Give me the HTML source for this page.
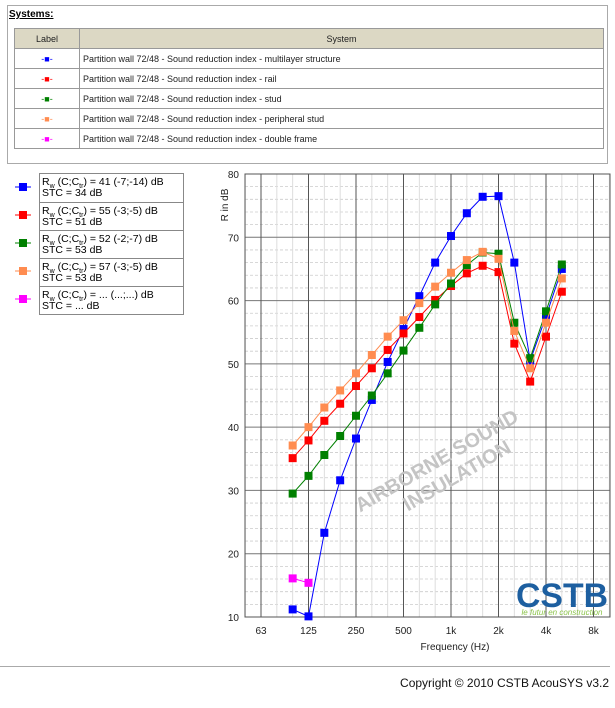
<!DOCTYPE html>
<html><head><meta charset="utf-8"><style>
body{margin:0;width:615px;height:708px;background:#fff;font-family:"Liberation Sans",sans-serif;position:relative;overflow:hidden}
.abs{position:absolute}
table{border-collapse:collapse;font-size:9px;color:#222}
td{border:1px solid #999;height:19px;padding:0 3px}
</style></head><body>
<div class="abs" style="left:7px;top:5px;width:599px;height:157px;border:1px solid #aaa"></div>
<div class="abs" style="left:9px;top:9px;font-size:10px;font-weight:bold;text-decoration:underline">Systems:</div>
<table class="abs" style="left:14px;top:28px;width:590px">
<tr style="background:#dcd8c4"><td style="width:58px;text-align:center">Label</td><td style="text-align:center">System</td></tr>
<tr><td style="text-align:center"><span style="color:#0000ff">-■-</span></td><td>Partition wall 72/48 - Sound reduction index - multilayer structure</td></tr>
<tr><td style="text-align:center"><span style="color:#ff0000">-■-</span></td><td>Partition wall 72/48 - Sound reduction index - rail</td></tr>
<tr><td style="text-align:center"><span style="color:#008000">-■-</span></td><td>Partition wall 72/48 - Sound reduction index - stud</td></tr>
<tr><td style="text-align:center"><span style="color:#ff8c50">-■-</span></td><td>Partition wall 72/48 - Sound reduction index - peripheral stud</td></tr>
<tr><td style="text-align:center"><span style="color:#ff00ff">-■-</span></td><td>Partition wall 72/48 - Sound reduction index - double frame</td></tr>
</table>
<div id="leg" class="abs" style="left:39px;top:173px;width:143px;border:1px solid #888"></div>
<svg id="ch" class="abs" style="left:0;top:0" width="615" height="708"></svg>
<div class="abs" style="left:0;top:666px;width:610px;border-top:1px solid #aaa"></div>
<div class="abs" style="right:6px;top:676px;font-size:12px;color:#111">Copyright © 2010 CSTB AcouSYS v3.2</div>
<script>
const categories=["100","125","160","200","250","315","400","500","630","800","1000","1250","1600","2000","2500","3150","4000","5000"];
const blue=[11.2,10.1,23.3,31.6,38.2,44.3,50.3,55.5,60.7,66,70.2,73.8,76.4,76.5,66,50.5,57.5,65];
const red=[35.1,37.9,41,43.7,46.5,49.3,52.2,54.8,57.4,60.1,62.3,64.3,65.5,64.5,53.2,47.2,54.3,61.4];
const green=[29.5,32.3,35.6,38.6,41.8,45,48.5,52.1,55.7,59.4,62.7,65.6,67.6,67.4,56.5,50.9,58.3,65.7];
const orange=[37.1,40,43.1,45.8,48.5,51.4,54.3,56.9,59.6,62.2,64.4,66.4,67.7,66.6,55.2,49.3,56.5,63.5];
const magenta=[16.1,15.4];
const xTicks=["63","125","250","500","1k","2k","4k","8k"];
const yTicks=[10,20,30,40,50,60,70,80];
const legendRw=["41 (-7;-14)","55 (-3;-5)","52 (-2;-7)","57 (-3;-5)","... (...;...)"];
const legendStc=["34","51","53","53","..."];
const NS="http://www.w3.org/2000/svg",svg=document.getElementById('ch');
const L=245,R=610,T=174,B=617;
const x=i=>261+(i+2)*47.5/3;
const y=v=>B-(v-10)*(B-T)/70;
function el(t,a,p){const e=document.createElementNS(NS,t);for(const k in a)e.setAttribute(k,a[k]);(p||svg).appendChild(e);return e;}
const g=el('g',{});
for(let v=12;v<80;v+=2)if(v%10)el('line',{x1:L,x2:R,y1:y(v),y2:y(v),stroke:'#ccc','stroke-dasharray':'3,2','stroke-width':0.8},g);
for(let k=-1;k<23;k++){const xx=261+k*47.5/3;if(xx<L||xx>R||k%3==0)continue;el('line',{x1:xx,x2:xx,y1:T,y2:B,stroke:'#ddd'},g);}
yTicks.forEach(v=>{el('line',{x1:L,x2:R,y1:y(v),y2:y(v),stroke:'#777'},g);const t=el('text',{x:L-6,y:y(v)+4,'text-anchor':'end','font-size':10,fill:'#222'});t.textContent=v;});
xTicks.forEach((s,k)=>{const xx=261+k*47.5;el('line',{x1:xx,x2:xx,y1:T,y2:B,stroke:'#555'},g);const t=el('text',{x:xx,y:634,'text-anchor':'middle','font-size':10,fill:'#222'});t.textContent=s;});
el('rect',{x:L,y:T,width:R-L,height:B-T,fill:'none',stroke:'#555'});
let t=el('text',{x:455,y:650,'text-anchor':'middle','font-size':10,fill:'#222'});t.textContent='Frequency (Hz)';
t=el('text',{x:0,y:0,'text-anchor':'middle','font-size':10,fill:'#222',transform:'translate(228,205) rotate(-90)'});t.textContent='R in dB';
const wm=el('g',{transform:'translate(442,470) rotate(-30)',fill:'#c4c4c4','font-size':20,'font-weight':'bold','text-anchor':'middle'});
el('text',{x:0,y:-4},wm).textContent='AIRBORNE SOUND';el('text',{x:10,y:19},wm).textContent='INSULATION';
t=el('text',{x:562,y:607,'text-anchor':'middle','font-size':34,'font-weight':'bold',fill:'#1d5fa0',textLength:92,lengthAdjust:'spacingAndGlyphs'});t.textContent='CSTB';
t=el('text',{x:562,y:615,'text-anchor':'middle','font-size':8,'font-style':'italic',fill:'#8bc34a'});t.textContent='le futur en construction';
const series=[[blue,'#0000ff','multilayer'],[red,'#ff0000','rail'],[green,'#008000','stud'],[orange,'#ff8c50','peripheral-stud'],[magenta,'#ff00ff','double-frame']];
const cols=[];
series.forEach(([d,c,n])=>{cols.push(c);const sg=el('g',{});
el('polyline',{points:d.map((v,i)=>x(i)+','+y(v)).join(' '),fill:'none',stroke:c,'stroke-width':1},sg);
d.forEach((v,i)=>{const r=el('rect',{x:x(i)-4,y:y(v)-4,width:8,height:8,fill:c},sg);});});
const leg=document.getElementById('leg');
legendRw.forEach((rw,i)=>{const d=document.createElement('div');
d.style.cssText='height:28px;border-top:'+(i?'1px solid #888':'none')+';font-size:10.5px;line-height:11px;padding:3px 0 0 2px;box-sizing:border-box';
d.innerHTML='R<sub style="font-size:7px;line-height:0">w</sub> (C;C<sub style="font-size:7px;line-height:0">tr</sub>) = '+rw+' dB<br>STC = '+legendStc[i]+' dB';leg.appendChild(d);
const m=el('g',{});
const yy=173+i*28+14;el('line',{x1:15,x2:31,y1:yy,y2:yy,stroke:cols[i]},m);el('rect',{x:19,y:yy-4,width:8,height:8,fill:cols[i]},m);});
</script>
</body></html>
